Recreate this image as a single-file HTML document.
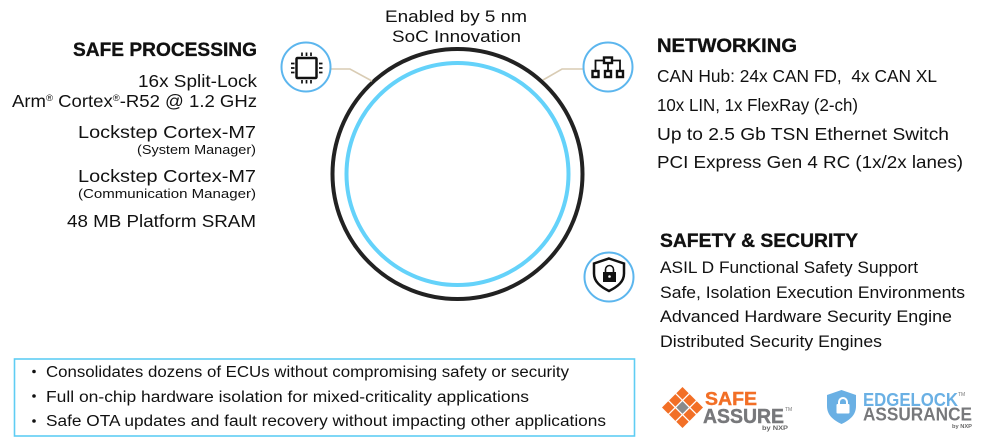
<!DOCTYPE html>
<html><head><meta charset="utf-8"><style>
html,body{margin:0;padding:0;background:#fff;width:999px;height:439px;overflow:hidden}
svg{display:block}
text{font-family:"Liberation Sans",sans-serif;fill:#111}
</style></head><body>
<svg width="999" height="439" viewBox="0 0 999 439" xmlns="http://www.w3.org/2000/svg">
<defs><style>.b{font-weight:700;font-size:19.5px;stroke:#111;stroke-width:.35px}.m{font-size:17.5px}.s{font-size:12.5px}.r{font-size:16.5px}.n{font-size:15.5px}</style></defs>

<circle cx="457.5" cy="174" r="125" fill="none" stroke="#222" stroke-width="4"/>
<circle cx="457.5" cy="174" r="111" fill="none" stroke="#64d2fa" stroke-width="4"/>

<polyline points="331,69 350,69 372,81" fill="none" stroke="#d9ccb4" stroke-width="1.6"/>
<polyline points="584,69 562,69 543,80" fill="none" stroke="#d9ccb4" stroke-width="1.6"/>

<text x="385" y="22" textLength="142" lengthAdjust="spacingAndGlyphs" style="font-size:17px">Enabled by 5 nm</text>
<text x="392" y="42" textLength="129" lengthAdjust="spacingAndGlyphs" style="font-size:17px">SoC Innovation</text>

<!-- chip icon -->
<circle cx="306" cy="67" r="24.5" fill="#fff" stroke="#5cb6ee" stroke-width="2"/>
<rect x="296.500" y="58" width="20" height="20" fill="none" stroke="#111" stroke-width="2.500" rx="1"/>
<g stroke="#111" stroke-width="1.700"><path d="M302 52.500v3.500M306.500 52.500v3.500M311 52.500v3.500M302 80v3.500M306.500 80v3.500M311 80v3.500M291 63.500h3.500M291 68h3.500M291 72.500h3.500M319 63.500h3.500M319 68h3.500M319 72.500h3.500"/></g>

<!-- network icon -->
<circle cx="608" cy="67" r="24.5" fill="#fff" stroke="#5cb6ee" stroke-width="2"/>
<g fill="none" stroke="#111" stroke-width="2.400"><rect x="604" y="57.500" width="8" height="5.500"/><rect x="592.500" y="71" width="6" height="6"/><rect x="605" y="71" width="6" height="6"/><rect x="617" y="71" width="6" height="6"/><path d="M604 60.500h-8.500v10.500M612 60.500h8v10.500M608 63v8" stroke-width="1.800"/></g>

<!-- shield icon -->
<circle cx="609" cy="277" r="24.500" fill="#fff" stroke="#5cb6ee" stroke-width="2"/>
<path d="M609 258.500l15 5v10c0 8-6 13-15 17.500c-9-4.500-15-9.500-15-17.500v-10z" fill="none" stroke="#111" stroke-width="2.500"/>
<rect x="603" y="272" width="13" height="10" fill="#111"/>
<path d="M605.500 272v-2.500a4 4 0 0 1 8 0v2.500" fill="none" stroke="#111" stroke-width="1.600"/>
<circle cx="609.500" cy="276.500" r="1.300" fill="#fff"/>

<!-- left -->
<text x="73" y="56" class="b" textLength="184" lengthAdjust="spacingAndGlyphs">SAFE PROCESSING</text>
<text x="138" y="87" class="m" textLength="119" lengthAdjust="spacingAndGlyphs">16x Split-Lock</text>
<text x="12" y="107" class="m" textLength="245" lengthAdjust="spacingAndGlyphs">Arm<tspan dy="-6" font-size="9">®</tspan><tspan dy="6"> Cortex</tspan><tspan dy="-6" font-size="9">®</tspan><tspan dy="6">-R52 @ 1.2 GHz</tspan></text>
<text x="78" y="138" class="m" textLength="178" lengthAdjust="spacingAndGlyphs">Lockstep Cortex-M7</text>
<text x="137" y="154" class="s" textLength="119" lengthAdjust="spacingAndGlyphs">(System Manager)</text>
<text x="78" y="182" class="m" textLength="178" lengthAdjust="spacingAndGlyphs">Lockstep Cortex-M7</text>
<text x="78" y="198" class="s" textLength="178" lengthAdjust="spacingAndGlyphs">(Communication Manager)</text>
<text x="67" y="227" class="m" textLength="189" lengthAdjust="spacingAndGlyphs">48 MB Platform SRAM</text>

<!-- networking -->
<text x="657" y="52" class="b" textLength="140" lengthAdjust="spacingAndGlyphs">NETWORKING</text>
<text x="657" y="82" class="m" textLength="280" lengthAdjust="spacingAndGlyphs">CAN Hub: 24x CAN FD,&#160; 4x CAN XL</text>
<text x="657" y="111" class="m" textLength="201" lengthAdjust="spacingAndGlyphs">10x LIN, 1x FlexRay (2-ch)</text>
<text x="657" y="140" class="m" textLength="292" lengthAdjust="spacingAndGlyphs">Up to 2.5 Gb TSN Ethernet Switch</text>
<text x="657" y="168" class="m" textLength="306" lengthAdjust="spacingAndGlyphs">PCI Express Gen 4 RC (1x/2x lanes)</text>

<!-- safety -->
<text x="660" y="247" class="b" textLength="198" lengthAdjust="spacingAndGlyphs">SAFETY &amp; SECURITY</text>
<text x="660" y="273" class="r" textLength="258" lengthAdjust="spacingAndGlyphs">ASIL D Functional Safety Support</text>
<text x="660" y="298" class="r" textLength="305" lengthAdjust="spacingAndGlyphs">Safe, Isolation Execution Environments</text>
<text x="660" y="322" class="r" textLength="292" lengthAdjust="spacingAndGlyphs">Advanced Hardware Security Engine</text>
<text x="660" y="347" class="r" textLength="222" lengthAdjust="spacingAndGlyphs">Distributed Security Engines</text>

<!-- box -->
<rect x="14.500" y="359" width="620" height="77" fill="#fff" stroke="#5fcdf3" stroke-width="1.600"/>
<circle cx="34" cy="371.500" r="1.800" fill="#111"/>
<circle cx="34" cy="396" r="1.800" fill="#111"/>
<circle cx="34" cy="421" r="1.800" fill="#111"/>
<text x="46" y="377" class="n" textLength="523" lengthAdjust="spacingAndGlyphs">Consolidates dozens of ECUs without compromising safety or security</text>
<text x="46" y="402" class="n" textLength="483" lengthAdjust="spacingAndGlyphs">Full on-chip hardware isolation for mixed-criticality applications</text>
<text x="46" y="426" class="n" textLength="560" lengthAdjust="spacingAndGlyphs">Safe OTA updates and fault recovery without impacting other applications</text>

<!-- safe assure logo -->
<g transform="translate(682.500,407.500) rotate(45)" fill="#f26f26">
<rect x="-14.500" y="-14.500" width="8.800" height="8.800"/><rect x="-4.400" y="-14.500" width="8.800" height="8.800"/><rect x="5.700" y="-14.500" width="8.800" height="8.800"/>
<rect x="-14.500" y="-4.400" width="8.800" height="8.800"/><rect x="-4.400" y="-4.400" width="8.800" height="8.800" fill="#8a8a8a"/><rect x="5.700" y="-4.400" width="8.800" height="8.800"/>
<rect x="-14.500" y="5.700" width="8.800" height="8.800"/><rect x="-4.400" y="5.700" width="8.800" height="8.800"/><rect x="5.700" y="5.700" width="8.800" height="8.800"/>
</g>
<text x="705" y="405" textLength="52" lengthAdjust="spacingAndGlyphs" style="font-weight:700;font-size:18.500px;fill:#f26f26;stroke:#f26f26;stroke-width:.4px">SAFE</text>
<text x="703" y="423" textLength="81" lengthAdjust="spacingAndGlyphs" style="font-weight:700;font-size:20px;fill:#77787b;stroke:#77787b;stroke-width:.4px">ASSURE</text>
<text x="762" y="430" textLength="26" lengthAdjust="spacingAndGlyphs" style="font-weight:700;font-size:6px;fill:#666">by NXP</text>
<text x="785" y="411" style="font-size:5px;fill:#777">TM</text>

<!-- edgelock logo -->
<path d="M841.500 390l14.500 5v11c0 9-6 14-14.500 18c-8.500-4-14.500-9-14.500-18v-11z" fill="#6ab0e4"/>
<rect x="836.500" y="404" width="13" height="9.500" rx="1" fill="#fff"/>
<path d="M839 404v-2a4 4 0 0 1 8 0v2" fill="none" stroke="#fff" stroke-width="2"/>
<text x="863" y="406" textLength="95" lengthAdjust="spacingAndGlyphs" style="font-weight:700;font-size:18px;fill:#6ab0e4">EDGELOCK</text>
<text x="863" y="420.500" textLength="109" lengthAdjust="spacingAndGlyphs" style="font-weight:700;font-size:18px;fill:#77787b">ASSURANCE</text>
<text x="952" y="428" textLength="20" lengthAdjust="spacingAndGlyphs" style="font-weight:700;font-size:5.500px;fill:#666">by NXP</text>
<text x="958" y="396" style="font-size:5px;fill:#777">TM</text>
</svg>
</body></html>
